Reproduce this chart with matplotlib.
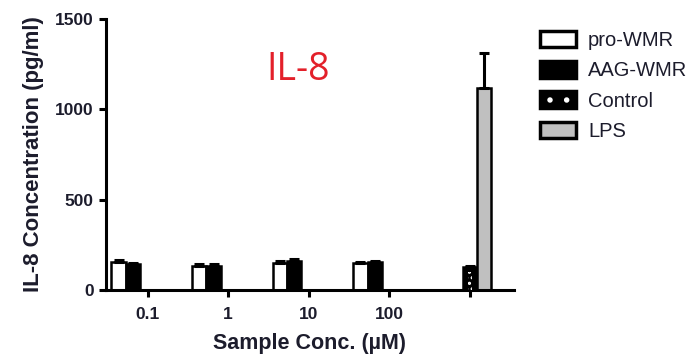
import numpy as np
import matplotlib
matplotlib.use("Agg")
import matplotlib.pyplot as plt
from matplotlib.patches import Patch

# === data ===
tick_labels = ["0.1", "1", "10", "100", ""]
pro_wmr = [152, 135, 150, 150, np.nan]
pro_wmr_err = [12, 8, 8, 6, 0]
aag_wmr = [142, 135, 160, 155, np.nan]
aag_wmr_err = [8, 6, 10, 5, 0]
control = [np.nan, np.nan, np.nan, np.nan, 125]
control_err = [0, 0, 0, 0, 10]
lps = [np.nan, np.nan, np.nan, np.nan, 1120]
lps_err = [0, 0, 0, 0, 190]

plt.rcParams['font.family'] = ['Liberation Sans', 'DejaVu Sans']
plt.rcParams['hatch.color'] = 'white'
plt.rcParams['hatch.linewidth'] = 1.5

fig = plt.figure(figsize=(7.0, 3.54), dpi=100)
ax = fig.add_axes([0.151, 0.181, 0.583, 0.765])

x = np.arange(len(tick_labels))
w = 0.18
lw = 1.8

series = [
    (pro_wmr, pro_wmr_err, -2 * w, "white", None),
    (aag_wmr, aag_wmr_err, -w, "black", None),
    (control, control_err, 0, "black", "..."),
    (lps, lps_err, w, "#c0c0c0", None),
]

for vals, err, off, fc, hatch in series:
    vals = np.array(vals, dtype=float)
    err = np.array(err, dtype=float)
    ax.bar(x + off, vals, w, color=fc, edgecolor="black", linewidth=lw, zorder=2)
    if hatch:
        # white dots down the middle of the bar
        ax.bar(x + off, vals * 0.8, w * 0.3, color=fc, hatch=hatch, linewidth=0, zorder=3)
    ax.errorbar(x + off, vals, yerr=[np.zeros_like(err), err], fmt="none",
                ecolor="black", elinewidth=2.2, capsize=3.5, capthick=2.2, zorder=4)

ax.set_xlim(-0.522, 4.547)
ax.set_ylim(0, 1500)
ax.set_yticks([0, 500, 1000, 1500])
ax.set_xticks(x)
ax.set_xticklabels(tick_labels)

for s in ["top", "right"]:
    ax.spines[s].set_visible(False)
for s in ["left", "bottom"]:
    ax.spines[s].set_linewidth(2.2)

ax.tick_params(axis="both", width=2.2, length=5, labelsize=12.5, colors="black",
               labelcolor="#1c1c2c")
ax.tick_params(axis="x", pad=7)
for t in ax.get_xticklabels() + ax.get_yticklabels():
    t.set_fontweight("bold")

ax.set_ylabel("IL-8 Concentration (pg/ml)", fontsize=16, fontweight="bold",
              color="#1c1c2c", labelpad=8)
ax.set_xlabel("Sample Conc. (\u00b5M)", fontsize=15.5, fontweight="bold",
              color="#1c1c2c", labelpad=8)

handles = [
    Patch(facecolor="white", edgecolor="black", linewidth=2.5),
    Patch(facecolor="black", edgecolor="black", linewidth=2.5),
    (Patch(facecolor="black", edgecolor="black", linewidth=2.5),
     Patch(facecolor="black", hatch=".", linewidth=0)),
    Patch(facecolor="#c0c0c0", edgecolor="black", linewidth=2.5),
]
fig.legend(handles=handles, labels=["pro-WMR", "AAG-WMR", "Control", "LPS"],
           loc="upper left", bbox_to_anchor=(0.745, 0.965),
           frameon=False, fontsize=14.5, handlelength=1.8, handleheight=0.9,
           labelspacing=0.55, handletextpad=0.6, labelcolor="#1c1c2c")

fig.text(298 / 700, 1 - 70 / 354, "IL-8", color="#e3202a", fontsize=27,
         family=["Open Sans", "DejaVu Sans"], ha="center", va="center")

fig.savefig("out.png", dpi=100)
